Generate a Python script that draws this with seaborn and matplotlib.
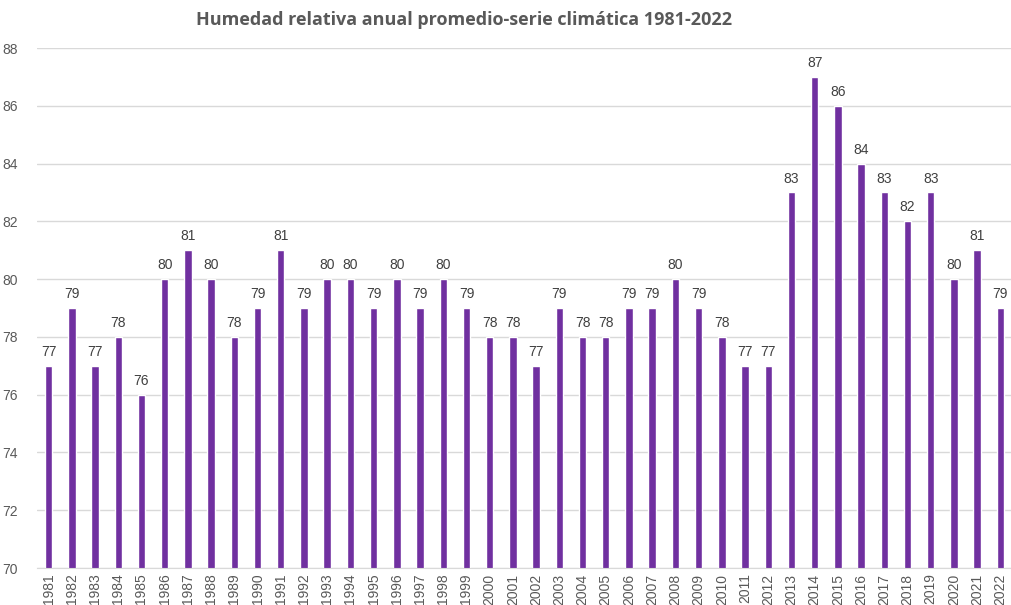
import matplotlib
matplotlib.use("Agg")
import matplotlib.pyplot as plt
import seaborn as sns
import pandas as pd

years = [str(y) for y in range(1981, 2023)]
humedad = [77, 79, 77, 78, 76, 80, 81, 80, 78, 79,
           81, 79, 80, 80, 79, 80, 79, 80, 79, 78,
           78, 77, 79, 78, 78, 79, 79, 80, 79, 78,
           77, 77, 83, 87, 86, 84, 83, 82, 83, 80,
           81, 79]

df = pd.DataFrame({"anio": years, "hr": humedad})

sns.set_style("white")
plt.rcParams['font.family'] = ['Liberation Sans', 'DejaVu Sans']

fig = plt.figure(figsize=(10.12, 6.05), dpi=100)
ax = fig.add_axes([37 / 1012, 37 / 605, 975 / 1012, 520 / 605])

sns.barplot(data=df, x="anio", y="hr", color="#7030A0", saturation=1,
            width=0.32, ax=ax)

ax.set_ylim(70, 88)
ax.set_yticks(range(70, 89, 2))
ax.yaxis.grid(True, color="#d9d9d9", linewidth=1)
ax.set_axisbelow(True)
for s in ["top", "right", "left"]:
    ax.spines[s].set_visible(False)
ax.spines["bottom"].set_color("#d9d9d9")
ax.tick_params(axis="x", labelrotation=90, labelsize=10, colors="#595959", length=0, pad=4)
ax.tick_params(axis="y", labelsize=10, colors="#595959", length=0, pad=14)
ax.set_xlabel("")
ax.set_ylabel("")

for c in ax.containers:
    ax.bar_label(c, fmt="%d", padding=5, fontsize=10, color="#404040")

fig.text(0.4585, 0.967, "Humedad relativa anual promedio-serie climática 1981-2022",
         ha="center", va="center", fontsize=13, fontweight="bold",
         color="#595959", family=["Open Sans", "DejaVu Sans"])

fig.savefig("out.png", dpi=100)
